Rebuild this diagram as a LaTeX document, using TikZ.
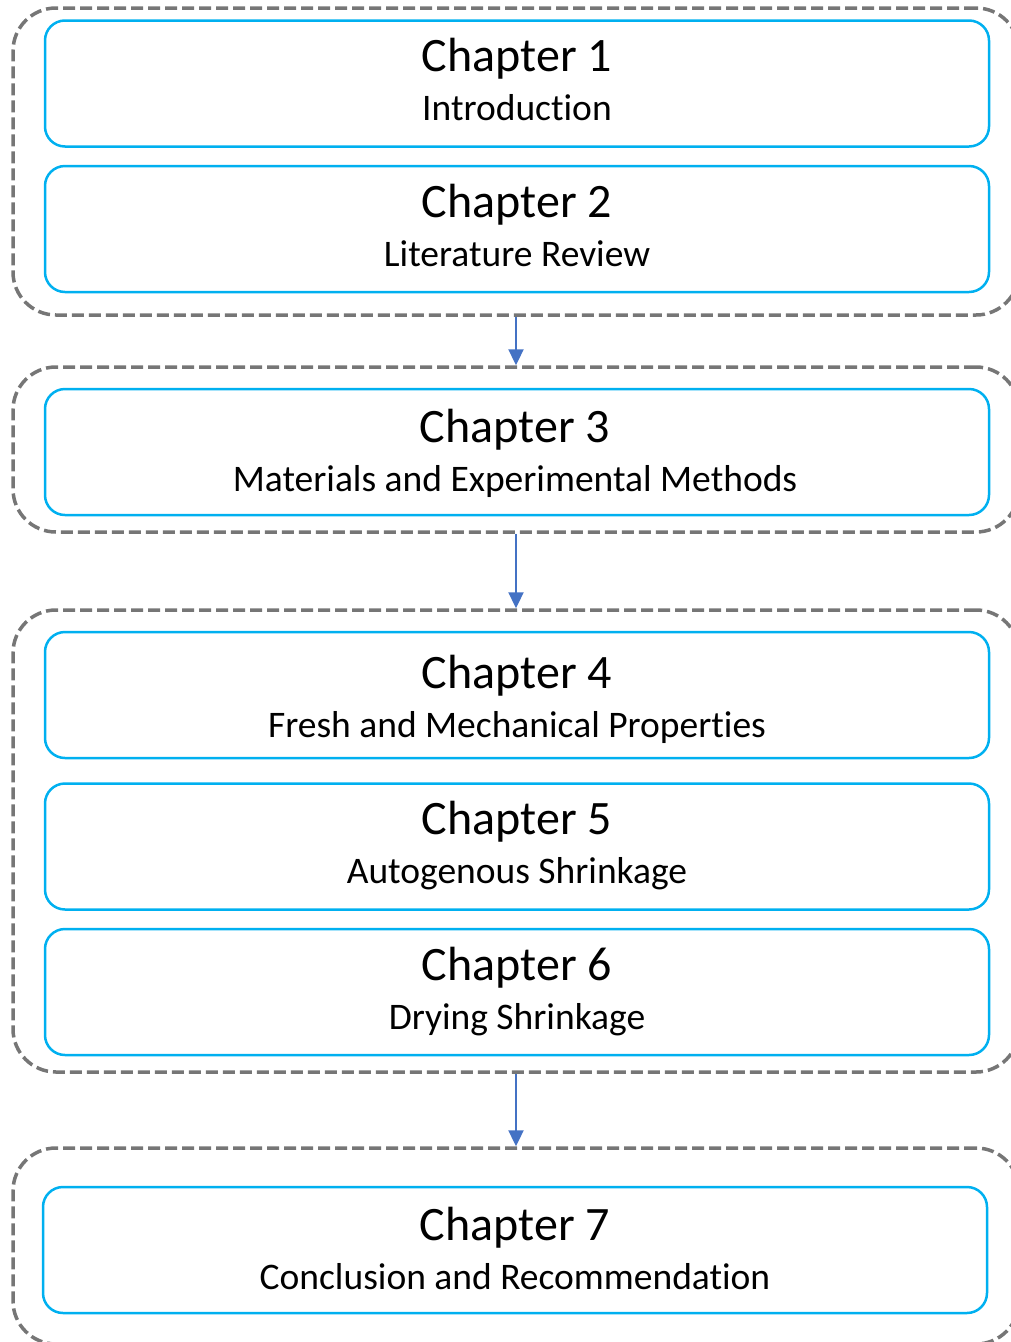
\documentclass[tikz,border=0pt]{standalone}
\usepackage{fontspec}
\setmainfont[Ligatures=NoCommon]{Carlito}
\usetikzlibrary{arrows.meta}
\definecolor{boxblue}{HTML}{00B0F0}
\definecolor{dashgray}{HTML}{767676}
\definecolor{arrblue}{HTML}{4472C4}
\begin{document}
\begin{tikzpicture}[x=1pt,y=-1pt,
  chapbox/.style={draw=boxblue, line width=2.5pt, rounded corners=20pt, minimum width=944pt, minimum height=126pt, inner sep=0pt},
  grp/.style={draw=dashgray, line width=3.5pt, dash pattern=on 12pt off 5pt, rounded corners=43pt, inner sep=0pt},
  ttl/.style={anchor=base, inner sep=0pt, font=\fontsize{48}{56}\selectfont},
  sub/.style={anchor=base, inner sep=0pt, font=\fontsize{37.5}{44}\selectfont},
  flow/.style={draw=arrblue, line width=2.3pt, -{Triangle[length=16pt,width=15pt]}}
]
\useasboundingbox (0,0) rectangle (1010,1342);
% groups
\node[grp, minimum width=1006pt, minimum height=307pt] (g1) at (516,161.5) {};
\node[grp, minimum width=1006pt, minimum height=165pt] (g2) at (516,449.5) {};
\node[grp, minimum width=1006pt, minimum height=462pt] (g3) at (516,841) {};
\node[grp, minimum width=1006pt, minimum height=196pt] (g4) at (516,1246) {};
% chapter boxes
\node[chapbox] (c1) at (517,83.5) {};
\node[chapbox] (c2) at (517,229) {};
\node[chapbox] (c3) at (517,452) {};
\node[chapbox] (c4) at (517,695) {};
\node[chapbox] (c5) at (517,846.5) {};
\node[chapbox] (c6) at (517,992) {};
\node[chapbox] (c7) at (515,1250) {};
% texts
\node[ttl] (t1) at (517,71) {Chapter 1};
\node[sub] (s1) at (517,120) {Introduction};
\node[ttl] (t2) at (517,217) {Chapter 2};
\node[sub] (s2) at (517,266) {Literature Review};
\node[ttl] (t3) at (515,442) {Chapter 3};
\node[sub] (s3) at (515,491) {Materials and Experimental Methods};
\node[ttl] (t4) at (517,688) {Chapter 4};
\node[sub] (s4) at (517,737) {Fresh and Mechanical Properties};
\node[ttl] (t5) at (517,834) {Chapter 5};
\node[sub] (s5) at (517,883) {Autogenous Shrinkage};
\node[ttl] (t6) at (517,980) {Chapter 6};
\node[sub] (s6) at (517,1029) {Drying Shrinkage};
\node[ttl] (t7) at (515,1240) {Chapter 7};
\node[sub] (s7) at (515,1289) {Conclusion and Recommendation};
% arrows
\draw[flow] (g1.south) -- (g2.north);
\draw[flow] (g2.south) -- (g3.north);
\draw[flow] (g3.south) -- (g4.north);
\end{tikzpicture}
\end{document}
